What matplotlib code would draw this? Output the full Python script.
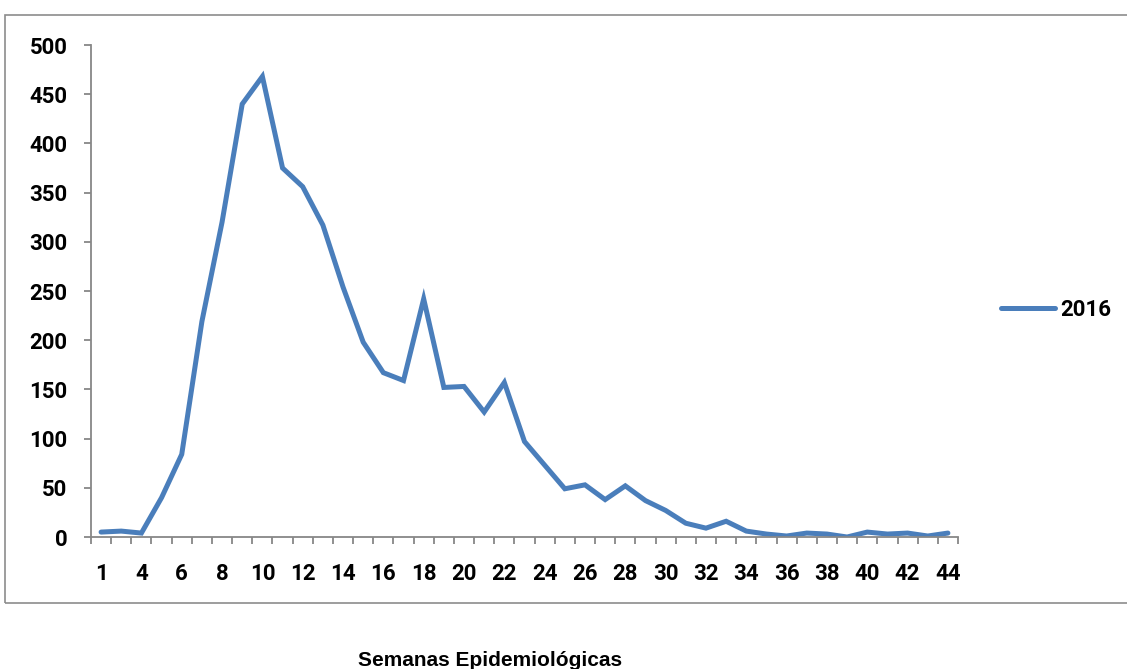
import matplotlib.pyplot as plt
from matplotlib.patches import Rectangle
from matplotlib.ticker import FixedLocator

# weeks shown on the category axis (one week missing in the source)
weeks = [1, 3] + list(range(4, 45))
cases = [5, 6, 4, 40, 84, 219, 320, 440, 468, 375,
         356, 317, 254, 198, 167, 159, 242, 152, 153, 127,
         157, 97, 73, 49, 53, 38, 52, 37, 27, 14,
         9, 16, 6, 3, 1, 4, 3, 0, 5, 3,
         4, 1, 4]
series_name = "2016"
x_title = "Semanas Epidemiológicas"
y_ticks = list(range(0, 501, 50))

plt.rcParams['font.family'] = ['Roboto', 'DejaVu Sans']

fig = plt.figure(figsize=(11.27, 6.69), dpi=100)
ax = fig.add_axes([91 / 1127, 1 - 537 / 669, (958 - 91) / 1127, 492 / 669])

idx = list(range(len(weeks)))
line, = ax.plot(idx, cases, color="#4A7EBB", linewidth=3.6,
                solid_joinstyle="miter", solid_capstyle="round")

ax.set_xlim(-0.5, len(weeks) - 0.5)
ax.set_ylim(0, 500)

# category axis: labels at centres, tick marks between categories
ax.set_xticks(idx[::2])
ax.set_xticklabels([str(w) for w in weeks[::2]], fontsize=16, fontweight="bold")
ax.xaxis.set_minor_locator(FixedLocator([i - 0.5 for i in range(len(weeks) + 1)]))
ax.tick_params(axis="x", which="major", length=0, pad=19)
ax.tick_params(axis="x", which="minor", length=5, width=1.3, color="#878787", direction="out")

ax.set_yticks(y_ticks)
ax.set_yticklabels([str(v) for v in y_ticks], fontsize=16, fontweight="bold")
ax.tick_params(axis="y", length=5, width=1.3, color="#878787", pad=12)

for side in ["top", "right"]:
    ax.spines[side].set_visible(False)
for side in ["left", "bottom"]:
    ax.spines[side].set_color("#878787")
    ax.spines[side].set_linewidth(1.3)

fig.legend([line], [series_name], loc="center left",
           bbox_to_anchor=(981 / 1127, 1 - 310 / 669), frameon=False,
           handlelength=2.45, handletextpad=0.2,
           prop={"size": 16, "weight": "bold"})

# outer chart frame
fig.patches.append(Rectangle((5 / 1127, 1 - 603 / 669), 1.05, (603 - 15) / 669,
                             transform=fig.transFigure, fill=False,
                             edgecolor="#8c8c8c", linewidth=1.2))

fig.text(490 / 1127, 1 - 666 / 669, x_title, ha="center", va="baseline",
         fontsize=15, fontweight="bold", family=["Liberation Sans", "DejaVu Sans"])

fig.savefig("out.png", dpi=100)
